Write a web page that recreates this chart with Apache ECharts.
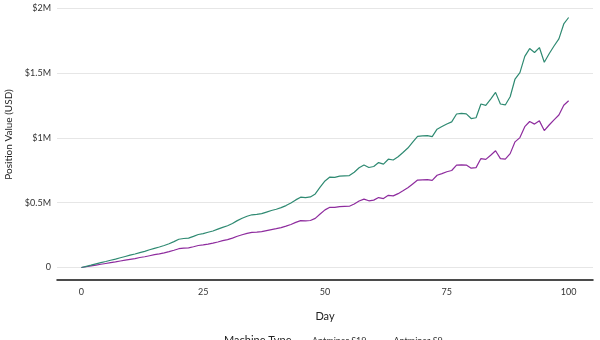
<!DOCTYPE html>
<html>
<head>
<meta charset="utf-8">
<script src="https://cdn.jsdelivr.net/npm/echarts@6/dist/echarts.min.js"></script>
<style>
html,body{margin:0;padding:0;background:#fff;}
#c{width:600px;height:340px;}
</style>
</head>
<body>
<div id="c"></div>
<script>
const days = Array.from({length: 101}, (_, i) => i);
// Values in thousands of USD
const s9Values = [0,9,18,28,37,46,56,65,75,85,95,104,115,125,137,148,158,170,183,200,
  218,224,227,240,255,262,272,282,296,310,322,340,362,380,396,407,410,416,428,440,
  450,462,478,498,522,543,540,545,568,620,668,698,696,705,708,710,735,770,792,772,
  780,810,798,836,830,855,888,922,968,1012,1016,1018,1010,1068,1088,1108,1124,1185,1190,1186,
  1150,1156,1262,1252,1300,1352,1262,1255,1318,1455,1505,1630,1690,1660,1698,1585,1650,1710,1765,1880,
  1930];
const s19Values = [0,6,12,19,25,31,37,43,50,57,63,69,77,83,91,99,105,113,122,133,
  145,149,151,160,170,175,181,188,197,207,215,227,241,253,264,271,273,277,285,293,
  300,308,319,332,348,362,360,363,379,413,445,465,464,470,472,473,490,513,528,515,
  520,540,532,557,553,570,592,615,645,675,677,679,673,712,725,739,749,790,793,791,
  767,771,841,835,867,901,841,837,879,970,1003,1087,1127,1107,1132,1057,1100,1140,1177,1253,
  1287];
const xTicks = [0, 25, 50, 75, 100];
const yTicks = [0, 500, 1000, 1500, 2000];
const yTickLabels = ['0', '$0.5M', '$1M', '$1.5M', '$2M'];
const seriesNames = ['Antminer S19', 'Antminer S9'];
const legendTitle = 'Machine Type';

const chart = echarts.init(document.getElementById('c'), null, {renderer: 'canvas'});
const font = 'Lato';
chart.setOption({
  animation: false,
  backgroundColor: '#ffffff',
  textStyle: {fontFamily: font},
  title: {
    text: legendTitle,
    left: 219, top: 330,
    textStyle: {fontFamily: font, fontSize: 11, fontWeight: 'normal', color: '#222'}
  },
  legend: {
    left: 288, top: 332,
    itemWidth: 14, itemHeight: 2, itemGap: 8,
    icon: 'rect',
    textStyle: {fontFamily: font, fontSize: 9, color: '#333'},
    data: seriesNames
  },
  grid: {left: 57, right: 7, top: 5, bottom: 60, containLabel: false, outerBoundsMode: 'none'},
  xAxis: {
    type: 'value', min: -5, max: 105,
    name: 'Day', nameLocation: 'middle', nameGap: 31,
    nameTextStyle: {fontFamily: font, fontSize: 11, color: '#222'},
    axisLine: {show: true, onZero: false, lineStyle: {color: '#111', width: 1.5}},
    axisTick: {show: false, customValues: xTicks},
    axisLabel: {customValues: xTicks, fontFamily: font, fontSize: 9, color: '#333', margin: 8},
    splitLine: {show: false}
  },
  yAxis: {
    type: 'value', min: -96.5, max: 2026.5,
    name: 'Position Value (USD)', nameLocation: 'middle', nameGap: 34,
    nameTextStyle: {fontFamily: font, fontSize: 10, color: '#222', padding: [0, 0, 0, 16]},
    axisLine: {show: false},
    axisTick: {show: false, customValues: yTicks},
    axisLabel: {
      customValues: yTicks, fontFamily: font, fontSize: 9, color: '#333', margin: 6,
      formatter: v => yTickLabels[yTicks.indexOf(v)] !== undefined ? yTickLabels[yTicks.indexOf(v)] : ''
    },
    splitLine: {show: true, lineStyle: {color: '#e6e6e6', width: 1}}
  },
  series: [
    {
      name: seriesNames[0], type: 'line', showSymbol: false,
      data: days.map((d, i) => [d, s19Values[i]]),
      lineStyle: {color: '#8e2c9e', width: 1.2}, itemStyle: {color: '#8e2c9e'}
    },
    {
      name: seriesNames[1], type: 'line', showSymbol: false,
      data: days.map((d, i) => [d, s9Values[i]]),
      lineStyle: {color: '#2f8a72', width: 1.2}, itemStyle: {color: '#2f8a72'}
    }
  ]
});
</script>
</body>
</html>
